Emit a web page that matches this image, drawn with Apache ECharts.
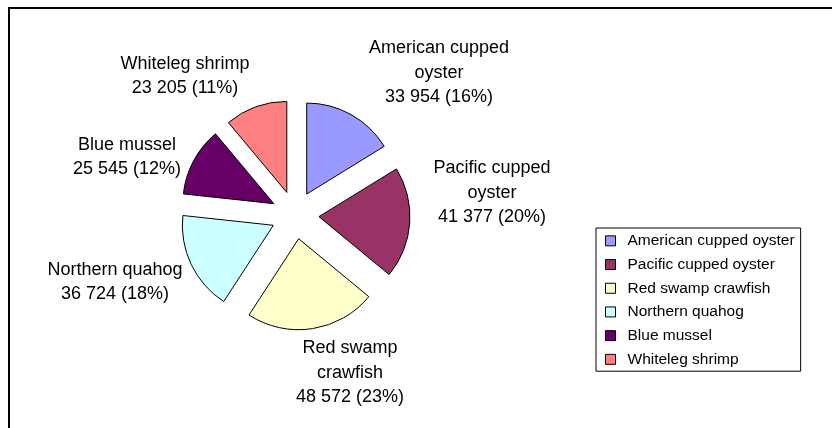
<!DOCTYPE html>
<html>
<head>
<meta charset="utf-8">
<style>
  html, body { margin: 0; padding: 0; background: #ffffff; }
  #chart { width: 832px; height: 428px; }
</style>
<script src="https://cdn.jsdelivr.net/npm/echarts@6/dist/echarts.min.js"></script>
</head>
<body>
<div id="chart"></div>
<script>
// Production by species (tonnes)
const species = [
  'American cupped oyster',
  'Pacific cupped oyster',
  'Red swamp crawfish',
  'Northern quahog',
  'Blue mussel',
  'Whiteleg shrimp'
];
const labelNames = [
  'American cupped\noyster',
  'Pacific cupped\noyster',
  'Red swamp\ncrawfish',
  'Northern quahog',
  'Blue mussel',
  'Whiteleg shrimp'
];
const tonnes = [33954, 41377, 48572, 36724, 25545, 23205];
const colors = ['#9999FF', '#993366', '#FFFFCC', '#CCFFFF', '#660066', '#FF8080'];

// Pie geometry and data-label placement (offsets from the pie centre)
const pieCenter = [295, 215];
const pieRadius = 91;
const explode = 24;
const labelOffsets = [
  [144, -142],
  [197, -22],
  [55, 158],
  [-180, 67],
  [-168, -58],
  [-110, -139]
];

const FONT = '"Liberation Sans", Arial, sans-serif';

function spaced(n) {
  return String(n).replace(/\B(?=(\d{3})+(?!\d))/g, ' ');
}

const total = tonnes.reduce(function (a, b) { return a + b; }, 0);

// Data labels: name, value and share of total
const dataLabels = tonnes.map(function (v, i) {
  const pct = Math.round(v / total * 100);
  return {
    type: 'text',
    silent: true,
    x: pieCenter[0] + labelOffsets[i][0],
    y: pieCenter[1] + labelOffsets[i][1],
    style: {
      text: labelNames[i] + '\n' + spaced(v) + ' (' + pct + '%)',
      font: '18px ' + FONT,
      lineHeight: 24.5,
      fill: '#000000',
      align: 'center',
      verticalAlign: 'middle'
    },
    z: 10
  };
});

const chart = echarts.init(document.getElementById('chart'), null, { renderer: 'canvas' });

chart.setOption({
  animation: false,
  backgroundColor: '#ffffff',
  color: colors,
  graphic: [{
    type: 'rect',
    shape: { x: 9, y: 8, width: 900, height: 500 },
    style: { fill: 'none', stroke: '#000000', lineWidth: 2 },
    silent: true
  }].concat(dataLabels),
  legend: {
    orient: 'vertical',
    left: 596,
    top: 228,
    padding: [1, 6, 0, 9],
    itemGap: 0,
    itemWidth: 10,
    itemHeight: 10,
    icon: 'rect',
    selectedMode: false,
    borderColor: '#000000',
    borderWidth: 1,
    backgroundColor: '#ffffff',
    itemStyle: { borderColor: '#000000', borderWidth: 1 },
    textStyle: {
      fontFamily: FONT,
      fontSize: 15.5,
      color: '#000000',
      lineHeight: 23.7,
      padding: [0, 0, 0, 7]
    },
    data: species
  },
  series: [{
    type: 'pie',
    center: pieCenter,
    radius: pieRadius,
    startAngle: 90,
    clockwise: true,
    selectedMode: 'multiple',
    selectedOffset: explode,
    emphasis: { disabled: true },
    itemStyle: { borderColor: '#000000', borderWidth: 1 },
    label: { show: false },
    labelLine: { show: false },
    data: species.map(function (name, i) {
      return { name: name, value: tonnes[i], selected: true };
    })
  }]
});
</script>
</body>
</html>
